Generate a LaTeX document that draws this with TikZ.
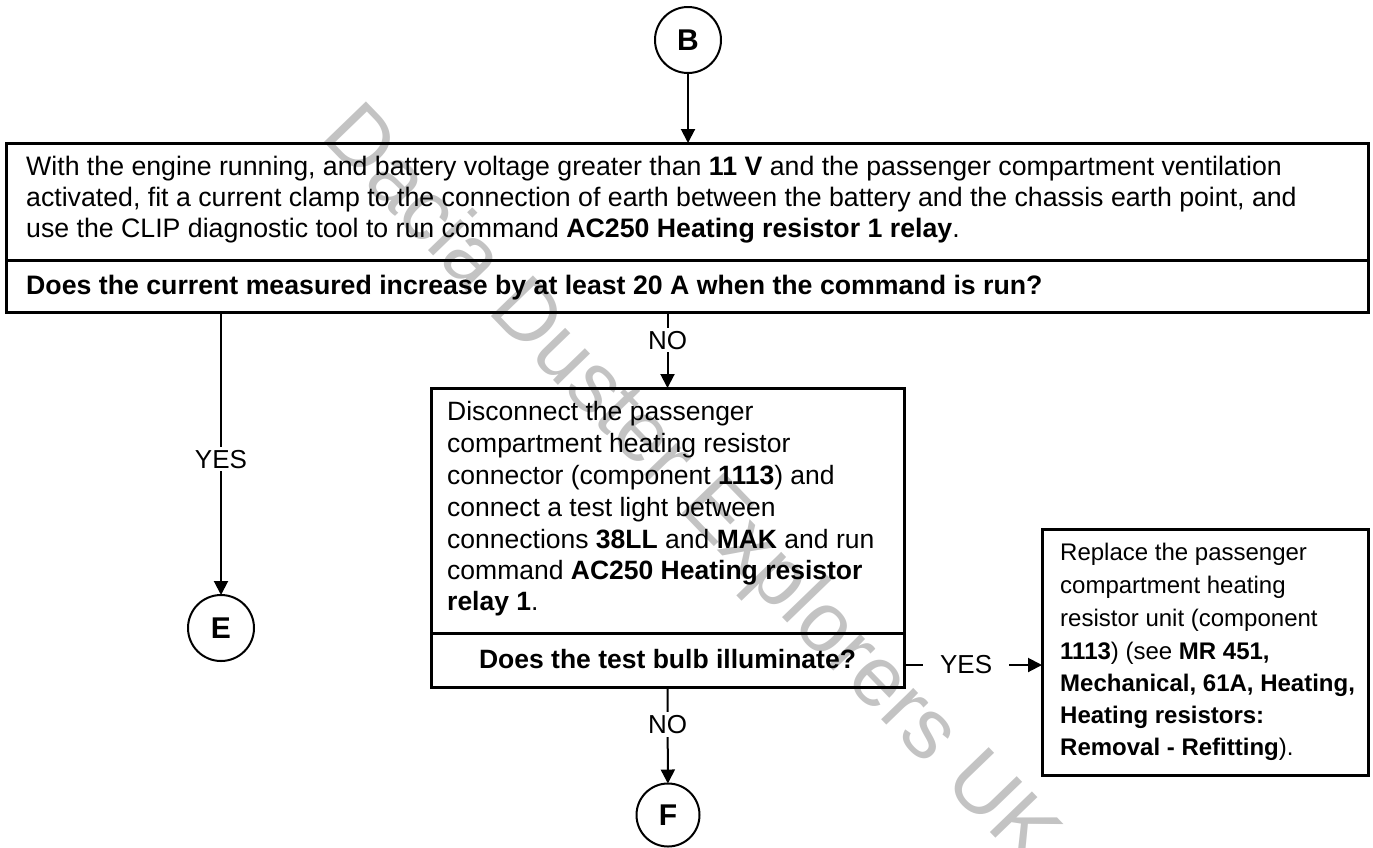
\documentclass[tikz,border=0pt]{standalone}
\usepackage{fontspec}
\setmainfont{Liberation Sans}
\usetikzlibrary{arrows.meta}
\definecolor{wmgray}{RGB}{195,195,195}
\begin{document}
\begin{tikzpicture}[x=1pt,y=-1pt,
  box/.style={draw, line width=3pt, inner sep=0pt, outer sep=0pt},
  divider/.style={line width=3pt},
  conn/.style={line width=2pt, -{Triangle[length=14pt,width=14pt]}},
  circ/.style={draw, circle, line width=2pt, minimum size=66pt, inner sep=0pt, outer sep=0pt, font=\fontsize{30}{30}\selectfont\bfseries},
  lab/.style={fill=white, inner sep=3pt, font=\fontsize{26}{26}\selectfont},
  txt/.style={anchor=base west, inner sep=0pt, font=\fontsize{26.5}{31}\selectfont},
  ttxt/.style={anchor=base west, inner sep=0pt, font=\fontsize{26.7}{31}\selectfont},
  rtxt/.style={anchor=base west, inner sep=0pt, font=\fontsize{24}{33}\selectfont},
  wm/.style={rotate=-46, text=wmgray, inner sep=0pt, font=\fontsize{85}{85}\selectfont}
]
\useasboundingbox (0,0) rectangle (1373,847);
% watermark
\node[wm] (wmark) at (688,488) {Dacia Duster Explorers UK};

% boxes
\node[box, minimum width=1362pt, minimum height=169pt] (top) at (687,227.5) {};
\node[box, minimum width=473pt, minimum height=299pt] (mid) at (667.5,537.5) {};
\node[box, minimum width=326pt, minimum height=246pt] (right) at (1205,652) {};
\coordinate (d1) at (0,260);
\coordinate (d2) at (0,633);
\draw[divider] (top.west |- d1) -- (top.east |- d1);
\draw[divider] (mid.west |- d2) -- (mid.east |- d2);

% circles
\node[circ] (B) at (688,40) {B};
\node[circ] (E) at (221,628) {E};
\node[circ, minimum size=63pt] (F) at (668,815) {F};

% top box text
\node[ttxt] (t1) at (26,175) {With the engine running, and battery voltage greater than \textbf{11 V} and the passenger compartment ventilation};
\node[ttxt] (t2) at (26,206) {activated, fit a current clamp to the connection of earth between the battery and the chassis earth point, and};
\node[ttxt] (t3) at (26,237) {use the CLIP diagnostic tool to run command \textbf{AC250 Heating resistor 1 relay}.};
\node[ttxt] (tq) at (26,294) {\bfseries Does the current measured increase by at least 20 A when the command is run?};

% middle box text
\node[txt] (m1) at (447,420) {Disconnect the passenger};
\node[txt] (m2) at (447,452) {compartment heating resistor};
\node[txt] (m3) at (447,484) {connector (component \textbf{1113}) and};
\node[txt] (m4) at (447,516) {connect a test light between};
\node[txt] (m5) at (447,548) {connections \textbf{38LL} and \textbf{MAK} and run};
\node[txt] (m6) at (447,579) {command \textbf{AC250 Heating resistor}};
\node[txt] (m7) at (447,610) {\textbf{relay 1}.};
\node[txt, anchor=base] (mq) at (667.5,668) {\bfseries Does the test bulb illuminate?};

% right box text
\node[rtxt] (r1) at (1060,560) {Replace the passenger};
\node[rtxt] (r2) at (1060,593) {compartment heating};
\node[rtxt] (r3) at (1060,626) {resistor unit (component};
\node[rtxt] (r4) at (1060,659) {\textbf{1113}) (see \textbf{MR 451,}};
\node[rtxt] (r5) at (1060,691) {\textbf{Mechanical, 61A, Heating,}};
\node[rtxt] (r6) at (1060,723) {\textbf{Heating resistors:}};
\node[rtxt] (r7) at (1060,755) {\textbf{Removal - Refitting}).};

% connectors
\coordinate (ym) at (0,665);
\draw[conn] (B) -- (B |- top.north);
\draw[conn] (top.south -| E) -- (E) node[lab, pos=0.52] (yes1) {YES};
\draw[conn] (top.south -| mid) -- (mid.north) node[lab, pos=0.37] (no1) {NO};
\draw[conn] (mid.south) -- (F) node[lab, pos=0.39] (no2) {NO};
\draw[conn] (mid.east |- ym) -- (right.west |- ym) node[lab, pos=0.45, inner xsep=17pt] (yes2) {YES};
\end{tikzpicture}
\end{document}
